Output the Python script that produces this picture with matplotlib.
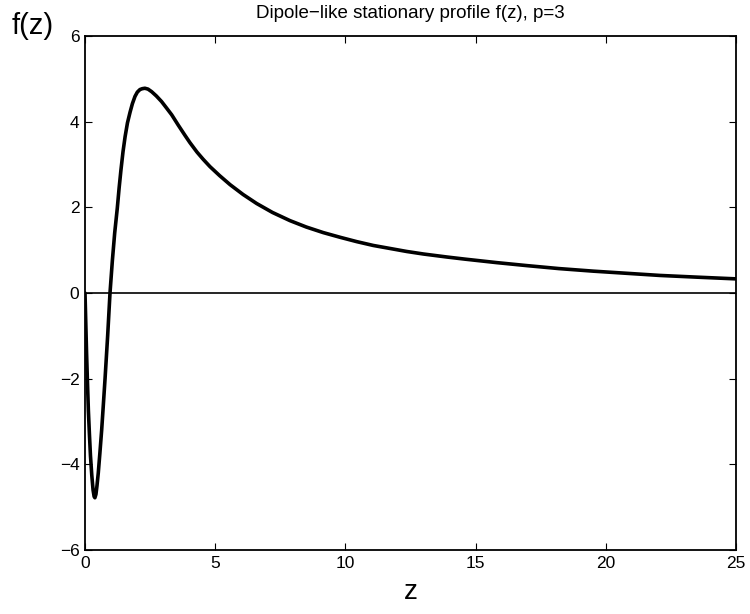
import matplotlib
matplotlib.use('Agg')

import numpy as np
import matplotlib.pyplot as plt

# profile values
z_vals = [0, 0.03, 0.06, 0.09, 0.13, 0.17, 0.21, 0.26, 0.31, 0.35, 0.38, 0.42,
          0.46, 0.51, 0.57, 0.64, 0.70, 0.77, 0.87, 0.96, 1.05, 1.14, 1.24,
          1.31, 1.38, 1.46, 1.54, 1.63, 1.73, 1.82, 1.92, 2.01, 2.11, 2.20,
          2.30, 2.42, 2.56, 2.74, 2.94, 3.13, 3.33, 3.58, 3.84, 4.03, 4.30,
          4.54, 4.80, 5.17, 5.57, 6.07, 6.59, 7.2, 7.87, 8.5, 9.15, 9.8,
          10.43, 11.07, 11.71, 12.35, 13.0, 13.9, 14.6, 15.8, 16.96, 18.2,
          19.52, 20.8, 22.08, 23.5, 25.0]
f_vals = [0, -0.7, -1.4, -2.0, -2.75, -3.3, -3.8, -4.25, -4.6, -4.75, -4.78,
          -4.7, -4.5, -4.2, -3.75, -3.2, -2.65, -2.0, -1.0, 0.0, 0.75, 1.4,
          1.98, 2.45, 2.87, 3.3, 3.65, 3.97, 4.22, 4.42, 4.59, 4.69, 4.75,
          4.77, 4.78, 4.76, 4.70, 4.60, 4.47, 4.32, 4.16, 3.92, 3.68, 3.51,
          3.29, 3.12, 2.95, 2.74, 2.53, 2.30, 2.09, 1.88, 1.69, 1.54, 1.41,
          1.30, 1.20, 1.11, 1.04, 0.97, 0.91, 0.84, 0.79, 0.71, 0.64, 0.57,
          0.51, 0.46, 0.41, 0.37, 0.33]

x_ticks = [0, 5, 10, 15, 20, 25]
y_ticks = [-6, -4, -2, 0, 2, 4, 6]

plt.rcParams['font.family'] = ['Liberation Sans', 'DejaVu Sans']

fig = plt.figure(figsize=(7.5, 6.14), dpi=100)
ax = fig.add_axes([85 / 750, 64 / 614, 651 / 750, 514 / 614])

ax.plot(z_vals, f_vals, color='black', linewidth=2.6, solid_capstyle='round',
        solid_joinstyle='round', zorder=3)
ax.axhline(0, color='black', linewidth=1.2, zorder=2)

ax.set_xlim(0, 25)
ax.set_ylim(-6, 6)
ax.set_xticks(x_ticks)
ax.set_yticks(y_ticks)
ax.tick_params(direction='in', length=5, width=0.8, top=True, right=True,
               labelsize=12.5, pad=4)
for s in ax.spines.values():
    s.set_linewidth(1.3)

ax.set_title('Dipole\u2212like stationary profile f(z), p=3', fontsize=13.5, pad=13)
ax.set_xlabel('z', fontsize=20, labelpad=6)
fig.text(12 / 750, 1 - 34 / 614, 'f(z)', fontsize=21, ha='left', va='baseline')

fig.savefig('out.png', dpi=100)
